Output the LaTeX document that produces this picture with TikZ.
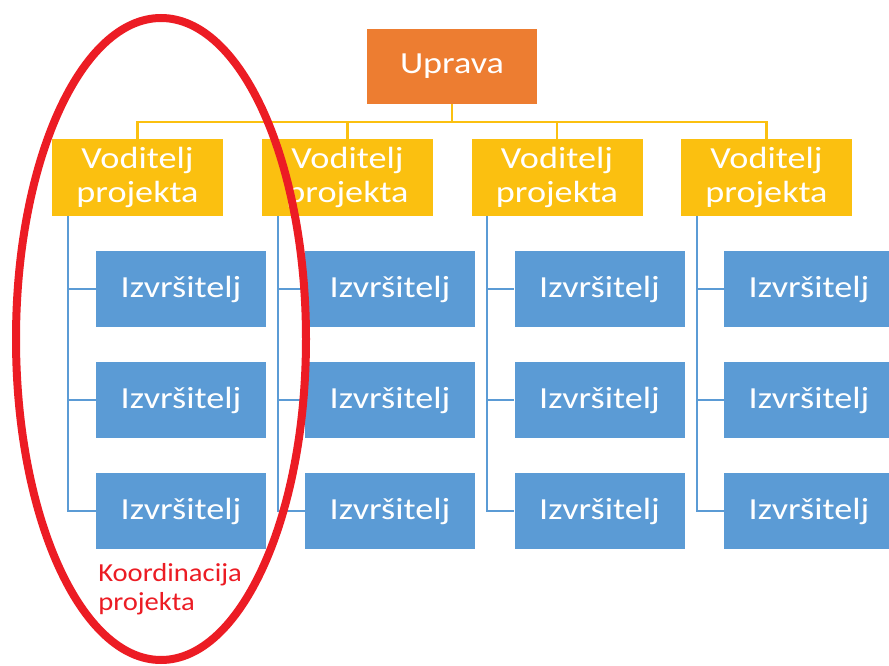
\documentclass[tikz,border=0pt]{standalone}
\usepackage{fontspec}
\usepackage{graphicx}
\setmainfont{Carlito}
\definecolor{uorange}{HTML}{ED7D31}
\definecolor{vyellow}{HTML}{FBC010}
\definecolor{iblue}{HTML}{5B9BD5}
\definecolor{kred}{HTML}{EC1C24}
\newcommand{\sx}[1]{\scalebox{1.18}[1]{#1}}
\tikzset{
  boxbase/.style={rectangle, inner sep=0pt, text=white, align=center,
    font=\fontsize{23pt}{25pt}\selectfont},
  upbox/.style={boxbase, fill=uorange, minimum width=127.5pt, minimum height=56.25pt},
  vodbox/.style={boxbase, fill=vyellow, minimum width=128.25pt, minimum height=57.75pt},
  izbox/.style={boxbase, fill=iblue, minimum width=127.5pt, minimum height=57pt},
  yline/.style={draw=vyellow, line width=1.6pt},
  bline/.style={draw=iblue, line width=1.6pt},
}
\begin{document}
\begin{tikzpicture}[x=0.75pt, y=-0.75pt]
\useasboundingbox (0,0) rectangle (889,666);
\clip (0,0) rectangle (889,666);
\fill[white] (0,0) rectangle (889,666);

\node[upbox] (u) at (452,66.5) {\sx{Uprava}};

\foreach \i/\x in {1/137.5, 2/347.5, 3/557, 4/766.5}{
  \node[vodbox] (v\i) at (\x,177.5) {\sx{Voditelj}\\\sx{projekta}};
}
\foreach \i/\x in {1/181, 2/390, 3/599.5, 4/809}{
  \foreach \j/\y in {1/289, 2/400, 3/511}{
    \node[izbox] (i\i\j) at (\x,\y) {\sx{Izvršitelj}};
  }
}

\foreach \i in {1,2,3,4}{
  \draw[yline] (u.south) -- ++(0,18) -| (v\i.north);
  \foreach \j in {1,2,3}{
    \draw[bline] ([xshift=12pt]v\i.south west) |- (i\i\j.west);
  }
}

\draw[kred, line width=6pt] (161,339) ellipse [x radius=108.75pt, y radius=240.75pt];

\node[anchor=north west, align=left, inner sep=0pt, text=kred,
  font=\fontsize{19.5pt}{21.75pt}\selectfont] (k) at (98,563)
  {\scalebox{1.1}[1]{Koordinacija}\\\scalebox{1.1}[1]{projekta}};
\end{tikzpicture}
\end{document}
